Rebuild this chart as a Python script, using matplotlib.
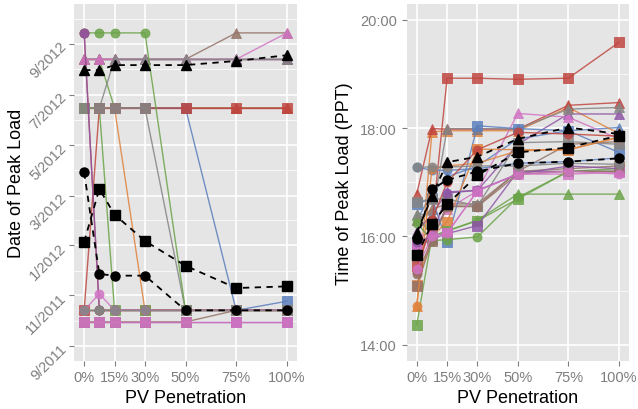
import matplotlib
matplotlib.use('Agg')
import matplotlib.pyplot as plt
import matplotlib.dates as mdates
import pandas as pd
from matplotlib.ticker import FixedLocator, FuncFormatter

plt.rcParams['font.family'] = ['Liberation Sans', 'DejaVu Sans']

# x positions (PV penetration) shared by both panels
pv = [0, 0.075, 0.15, 0.30, 0.50, 0.75, 1.00]
pv_ticks = [0, 0.15, 0.30, 0.50, 0.75, 1.00]
pv_labels = ['0%', '15%', '30%', '50%', '75%', '100%']

# one colour per feeder group
colors = ['#5b7fbd', '#e0823d', '#6ba348', '#c0463f', '#8e55a6', '#947266', '#d174c4', '#858585']

# left panel: date of peak load, one row per colour
left_triangle = [
    ['2012-08-13', '2012-08-13', '2012-08-13', '2012-08-13', '2012-08-13', '2012-08-13', '2012-08-13'],
    ['2012-08-13', '2012-08-13', '2012-08-13', '2012-08-13', '2012-08-13', '2012-08-13', '2012-08-13'],
    ['2012-08-13', '2012-08-13', '2012-06-15', '2012-06-15', '2012-06-15', '2012-06-15', '2012-06-15'],
    ['2012-06-15', '2012-06-15', '2012-06-15', '2012-06-15', '2012-06-15', '2012-06-15', '2012-06-15'],
    ['2012-08-13', '2012-08-13', '2012-08-13', '2012-08-13', '2012-08-13', '2012-08-13', '2012-08-13'],
    ['2012-08-13', '2012-08-13', '2012-08-13', '2012-08-13', '2012-08-13', '2012-09-14', '2012-09-14'],
    ['2012-08-13', '2012-08-13', '2012-08-13', '2012-08-13', '2012-08-13', '2012-08-13', '2012-09-14'],
    ['2012-06-15', '2012-06-15', '2012-08-13', '2012-08-13', '2012-08-13', '2012-08-13', '2012-08-13'],
]
left_square = [
    ['2012-06-15', '2012-06-15', '2012-06-15', '2012-06-15', '2012-06-15', '2011-10-14', '2011-10-25'],
    ['2012-06-15', '2012-06-15', '2012-06-15', '2011-10-14', '2011-10-14', '2011-10-14', '2011-10-14'],
    ['2012-06-15', '2012-06-15', '2011-10-14', '2011-10-14', '2011-10-14', '2011-10-14', '2011-10-14'],
    ['2011-10-14', '2012-06-15', '2012-06-15', '2012-06-15', '2012-06-15', '2012-06-15', '2012-06-15'],
    ['2011-09-30', '2011-09-30', '2011-09-30', '2011-09-30', '2011-09-30', '2011-09-30', '2011-09-30'],
    ['2011-09-30', '2011-09-30', '2011-09-30', '2011-09-30', '2011-09-30', '2011-10-14', '2011-10-14'],
    ['2011-09-30', '2011-09-30', '2011-09-30', '2011-09-30', '2011-09-30', '2011-09-30', '2011-09-30'],
    ['2012-06-15', '2012-06-15', '2012-06-15', '2012-06-15', '2011-10-14', '2011-10-14', '2011-10-14'],
]
left_circle = [
    ['2011-10-14', '2011-10-14', '2011-10-14', '2011-10-14', '2011-10-14', '2011-10-14', '2011-10-14'],
    ['2011-10-14', '2011-10-14', '2011-10-14', '2011-10-14', '2011-10-14', '2011-10-14', '2011-10-14'],
    ['2012-09-14', '2012-09-14', '2012-09-14', '2012-09-14', '2011-10-14', '2011-10-14', '2011-10-14'],
    ['2012-09-14', '2011-10-14', '2011-10-14', '2011-10-14', '2011-10-14', '2011-10-14', '2011-10-14'],
    ['2012-09-14', '2011-10-14', '2011-10-14', '2011-10-14', '2011-10-14', '2011-10-14', '2011-10-14'],
    ['2011-10-14', '2011-10-14', '2011-10-14', '2011-10-14', '2011-10-14', '2011-10-14', '2011-10-14'],
    ['2011-10-14', '2011-11-03', '2011-10-14', '2011-10-14', '2011-10-14', '2011-10-14', '2011-10-14'],
    ['2011-10-14', '2011-10-14', '2011-10-14', '2011-10-14', '2011-10-14', '2011-10-14', '2011-10-14'],
]
left_mean_circle = ['2012-03-29', '2011-11-27', '2011-11-25', '2011-11-25', '2011-10-14', '2011-10-14', '2011-10-14']
left_mean_square = ['2012-01-05', '2012-03-09', '2012-02-07', '2012-01-06', '2011-12-07', '2011-11-10', '2011-11-12']
left_mean_triangle = ['2012-07-31', '2012-07-31', '2012-08-06', '2012-08-06', '2012-08-06', '2012-08-11', '2012-08-18']

# right panel: time of peak load in hours
right_triangle = [
    [16.30, 16.80, 17.10, 17.30, 17.80, 17.95, 18.01],
    [14.72, 17.93, 17.95, 17.95, 17.95, 18.38, 17.90],
    [16.40, 16.00, 16.10, 16.30, 16.78, 16.78, 16.78],
    [16.79, 17.99, 17.98, 17.98, 17.98, 18.42, 18.47],
    [16.10, 16.40, 16.82, 16.85, 17.70, 18.26, 18.26],
    [16.30, 16.50, 16.60, 16.60, 17.20, 17.70, 17.75],
    [15.95, 16.10, 16.50, 16.84, 18.27, 18.20, 17.80],
    [16.41, 16.39, 17.99, 17.99, 17.98, 18.35, 18.38],
]
right_square = [
    [16.60, 16.70, 15.89, 18.04, 17.99, 17.95, 17.55],
    [15.10, 16.00, 16.27, 17.61, 17.60, 17.60, 17.83],
    [14.37, 16.00, 16.10, 16.29, 16.69, 17.20, 17.25],
    [15.45, 16.20, 18.92, 18.92, 18.90, 18.92, 19.58],
    [15.80, 15.95, 16.05, 16.20, 17.20, 17.20, 17.20],
    [15.08, 15.92, 16.56, 16.56, 17.20, 17.25, 17.30],
    [15.85, 16.00, 16.06, 16.84, 17.15, 17.15, 17.18],
    [16.64, 16.69, 16.69, 16.56, 17.73, 17.75, 17.70],
]
right_circle = [
    [17.28, 17.22, 17.22, 17.25, 17.35, 17.38, 17.45],
    [14.72, 17.25, 17.30, 17.35, 17.58, 17.60, 17.83],
    [16.25, 15.92, 15.94, 15.99, 16.72, 17.20, 17.20],
    [15.35, 16.30, 17.00, 17.60, 17.92, 17.89, 17.85],
    [15.90, 16.00, 16.80, 16.85, 17.15, 17.30, 17.25],
    [15.30, 15.92, 16.55, 16.55, 17.15, 17.20, 17.20],
    [15.40, 16.00, 16.06, 16.84, 17.15, 17.20, 17.15],
    [17.28, 17.28, 17.28, 17.30, 17.30, 17.35, 17.33],
]
right_mean_circle = [15.95, 16.87, 17.04, 17.20, 17.35, 17.38, 17.44]
right_mean_square = [15.65, 16.23, 16.59, 17.13, 17.55, 17.64, 17.86]
right_mean_triangle = [16.07, 16.74, 17.37, 17.47, 17.80, 18.01, 17.89]

tick_grey = '#7f7f7f'


def style_axes(ax):
    ax.set_facecolor('#e5e5e5')
    for s in ax.spines.values():
        s.set_visible(False)
    ax.grid(which='major', color='white', linewidth=1.2)
    ax.grid(which='minor', axis='y', color='white', linewidth=0.5)
    ax.set_axisbelow(True)
    ax.tick_params(which='major', direction='out', length=3.5, width=0.8,
                   color=tick_grey, labelcolor=tick_grey, labelsize=10.5)
    ax.tick_params(which='minor', length=0)
    ax.set_xlim(-0.05, 1.05)
    ax.set_xticks(pv_ticks)
    ax.set_xticklabels(pv_labels)
    ax.set_xlabel('PV Penetration', fontsize=13, labelpad=3)


def draw(ax, tri, sq, circ, m_circ, m_sq, m_tri, conv):
    for data, mk in [(tri, '^'), (sq, 's'), (circ, 'o')]:
        for c, vals in zip(colors, data):
            ax.plot(pv, conv(vals), color=c, marker=mk, markersize=7 if mk == '^' else 6.5,
                    linewidth=1.0, alpha=0.85, markeredgewidth=0.6)
    for vals, mk in [(m_circ, 'o'), (m_sq, 's'), (m_tri, '^')]:
        ax.plot(pv, conv(vals), color='black', marker=mk, markersize=7 if mk == '^' else 6.5,
                linewidth=1.3, linestyle=(0, (3.5, 3)))


fig = plt.figure(figsize=(6.38, 4.10), dpi=100)
ax1 = fig.add_axes([74 / 638, 48.3 / 410, 223 / 638, 356.7 / 410])
ax2 = fig.add_axes([406.7 / 638, 48.3 / 410, 222.3 / 638, 356.7 / 410])

to_dates = lambda v: mdates.date2num(pd.to_datetime(v))
draw(ax1, left_triangle, left_square, left_circle,
     left_mean_circle, left_mean_square, left_mean_triangle, to_dates)
style_axes(ax1)
ax1.set_ylim(to_dates(['2011-08-14', '2012-10-19']))
ax1.yaxis.set_major_locator(mdates.MonthLocator(bymonth=[1, 3, 5, 7, 9, 11]))
ax1.yaxis.set_minor_locator(mdates.MonthLocator())
ax1.yaxis.set_major_formatter(FuncFormatter(
    lambda v, p: '%d/%d' % (mdates.num2date(v).month, mdates.num2date(v).year)))
for lab in ax1.get_yticklabels():
    lab.set_rotation(45)
    lab.set_ha('right')
    lab.set_va('center')
    lab.set_rotation_mode('anchor')
ax1.set_ylabel('Date of Peak Load', fontsize=13, labelpad=-1)

draw(ax2, right_triangle, right_square, right_circle,
     right_mean_circle, right_mean_square, right_mean_triangle, lambda v: v)
style_axes(ax2)
ax2.set_ylim(13.705, 20.29)
ax2.set_yticks([14, 16, 18, 20])
ax2.yaxis.set_minor_locator(FixedLocator([15, 17, 19]))
ax2.yaxis.set_major_formatter(FuncFormatter(lambda v, p: '%d:00' % v))
ax2.set_ylabel('Time of Peak Load (PPT)', fontsize=13, labelpad=5)

fig.savefig('out.png', dpi=100)
